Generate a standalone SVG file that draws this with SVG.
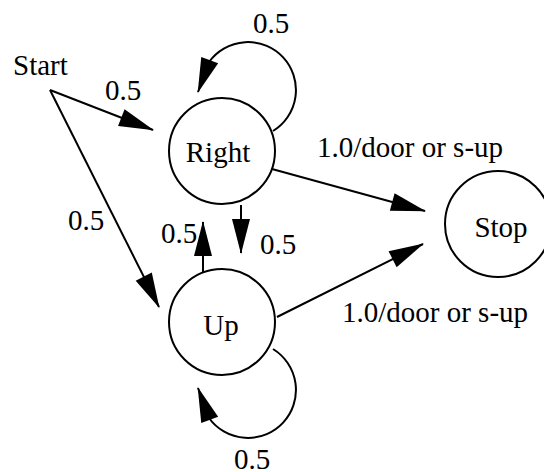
<svg xmlns="http://www.w3.org/2000/svg" width="544" height="472" viewBox="0 0 544 472">
<defs>
<style>
.node{fill:#fff;stroke:#000;stroke-width:2}
.edge{fill:none;stroke:#000;stroke-width:2;marker-end:url(#ah)}
text{font-family:'Liberation Serif','DejaVu Serif',serif;font-size:29px;fill:#000}
.c{text-anchor:middle}
</style>
<marker id="ah" markerUnits="userSpaceOnUse" markerWidth="35" markerHeight="18" refX="34" refY="9" orient="auto" overflow="visible">
<path d="M0,0 L35,9 L0,18 z" fill="#000"/>
</marker>
</defs>
<rect width="544" height="472" fill="#fff"/>
<g id="connectors">
<path class="edge" d="M50,90 L153,130"/>
<path class="edge" d="M50,90 L159,307"/>
<path class="edge" d="M273,131 A48,48 0 1,0 209,62 L198,92"/>
<path class="edge" d="M273,349 A48,48 0 1,1 209,418 L198,388"/>
<path class="edge" d="M241,205 L241,253"/>
<path class="edge" d="M203,272 L203,222"/>
<path class="edge" d="M272,169 L425,211"/>
<path class="edge" d="M277,317 L423,244"/>
</g>
<g id="labels">
<text x="105" y="100">0.5</text>
<text x="253" y="33">0.5</text>
<text x="317" y="157">1.0/door or s-up</text>
<text x="68" y="230">0.5</text>
<text x="161" y="243">0.5</text>
<text x="260" y="254">0.5</text>
<text x="342" y="322">1.0/door or s-up</text>
<text x="234" y="469">0.5</text>
</g>
<g id="start"><text x="13" y="75">Start</text></g>
<g id="right"><circle class="node" cx="222" cy="151" r="53"/><text class="c" x="218" y="162">Right</text></g>
<g id="up"><circle class="node" cx="222" cy="322" r="53"/><text class="c" x="221" y="335">Up</text></g>
<g id="stop"><circle class="node" cx="498" cy="224" r="53"/><text class="c" x="501" y="237">Stop</text></g>
</svg>
